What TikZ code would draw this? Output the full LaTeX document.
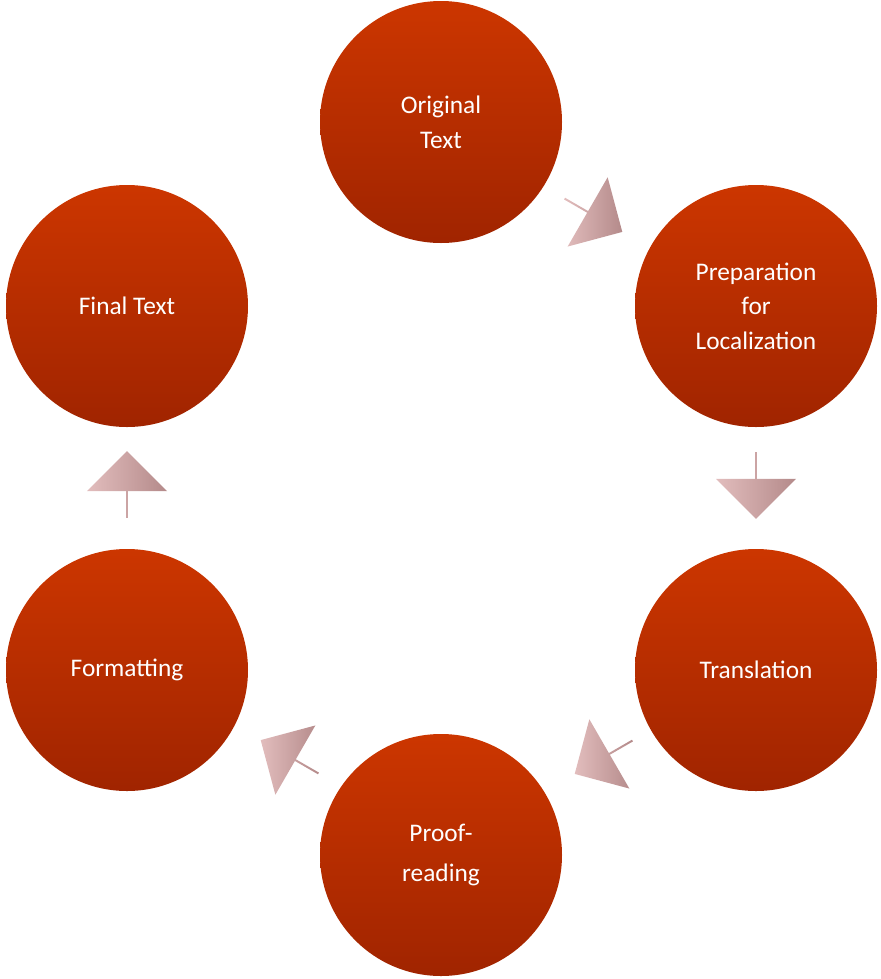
\documentclass[tikz,border=0pt]{standalone}
\usepackage{fontspec}
\setmainfont{Carlito}
\usetikzlibrary{shapes.arrows}
\definecolor{stepTop}{HTML}{CC3600}
\definecolor{stepBot}{HTML}{A02400}
\definecolor{arrTail}{HTML}{E2BDBD}
\definecolor{arrHead}{HTML}{B48A8A}
\tikzset{
  stage/.style={circle, minimum size=181.5pt, inner sep=0pt, top color=stepTop, bottom color=stepBot,
    text=white, align=center, font=\fontsize{19}{26}\selectfont},
  flow/.style={single arrow, minimum height=50pt, minimum width=60pt, single arrow head extend=8pt,
    inner sep=0pt, left color=arrTail, right color=arrHead, draw=none}
}
\begin{document}
\begin{tikzpicture}[x=0.75pt,y=-0.75pt]
\useasboundingbox (0,0) rectangle (881,979);
% stages
\node[stage] (orig) at (441,122) {Original\\Text};
\node[stage] (prep) at (756,306) {Preparation\\for\\Localization};
\node[stage] (trans) at (756,670) {Translation};
\node[stage] (proof) at (441,855) {Proof-\\[4pt]reading};
\node[stage] (form) at (127,670) {Formatting};
\node[stage] (final) at (127,306) {Final Text};
% arrows between stages
\node[flow, rotate=-30] (a1) at (593,215) {};
\node[flow, rotate=-90] (a2) at (756,485) {};
\node[flow, rotate=210] (a3) at (604,757) {};
\node[flow, rotate=150] (a4) at (290,757) {};
\node[flow, rotate=90] (a5) at (127,485) {};
\end{tikzpicture}
\end{document}
